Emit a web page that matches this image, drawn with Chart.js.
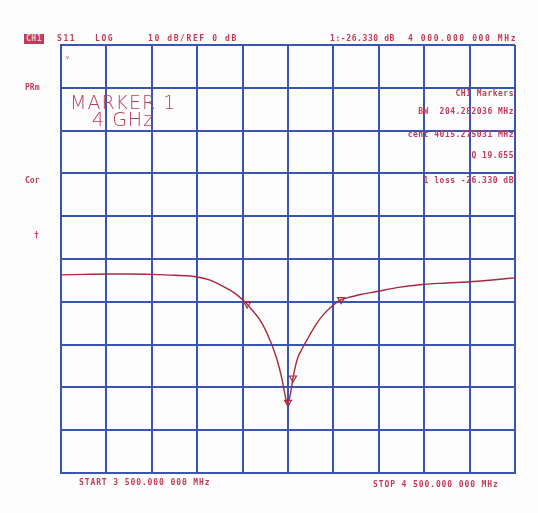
<!DOCTYPE html>
<html>
<head>
<meta charset="utf-8">
<script src="https://cdn.jsdelivr.net/npm/chart.js@4"></script>
<style>
  body { margin: 0; background: #fff; }
  #wrap { position: relative; width: 538px; height: 513px; background: #fdfdfd; }
  .t { position: absolute; color: #c23a58; font-family: "DejaVu Sans Mono", monospace; font-weight: bold; font-size: 8px; white-space: nowrap; line-height: 1; }
  .hd { letter-spacing: 1.6px; }
  .hs { letter-spacing: 0.6px; }
  .ft { letter-spacing: 0.9px; }
  .mk { letter-spacing: 0.5px; }
  .big { font-family: "DejaVu Sans", sans-serif; font-weight: 300; font-size: 19px; letter-spacing: 1px; color: #b8405c; line-height: 17px; }
  .box { background: #c23a58; color: #f4c8d2; padding: 1px 2px; letter-spacing: 0.5px; }
</style>
</head>
<body>
<div id="wrap">
  <canvas id="smithCanvas"></canvas>

  <div class="t box" style="left:24px;top:34px;">CH1</div>
  <div class="t hd" style="left:57px;top:35px;">S11</div>
  <div class="t hd" style="left:95px;top:35px;">LOG</div>
  <div class="t hd" style="left:148px;top:35px;">10 dB/REF 0 dB</div>
  <div class="t hs" style="left:330px;top:35px;">1:-26.330 dB</div>
  <div class="t hd" style="left:408px;top:35px;">4 000.000 000 MHz</div>

  <div class="t" style="left:65px;top:54px;">&#9663;</div>
  <div class="t" style="left:25px;top:84px;">PRm</div>
  <div class="t" style="left:25px;top:177px;">Cor</div>
  <div class="t" style="left:34px;top:232px;">&dagger;</div>

  <div class="t big" style="left:70px;top:94px;">MARKER 1</div>
  <div class="t big" style="left:92px;top:111px;">4 GHz</div>

  <div class="t mk" style="right:24px;top:90px;">CH1 Markers</div>
  <div class="t mk" style="right:24px;top:108px;">BW &nbsp;204.282036 MHz</div>
  <div class="t mk" style="right:24px;top:131px;">cent 4015.275031 MHz</div>
  <div class="t mk" style="right:24px;top:152px;">Q 19.655</div>
  <div class="t mk" style="right:24px;top:177px;">1 loss -26.330 dB</div>

  <div class="t ft" style="left:79px;top:479px;">START 3 500.000 000 MHz</div>
  <div class="t ft" style="left:373px;top:481px;">STOP 4 500.000 000 MHz</div>
</div>
<script>
// S11 sweep (MHz, dB)
const freqMHz = [3500, 3550, 3600, 3650, 3700, 3750, 3800, 3830, 3855, 3880, 3905, 3920, 3938, 3950, 3960, 3976, 3987, 3993, 3998, 4002, 4007, 4011, 4016, 4022, 4032, 4042, 4053, 4064, 4078, 4093, 4117, 4130, 4160, 4196, 4240, 4291, 4350, 4401, 4450, 4500];
const s11dB = [6.3, 6.4, 6.5, 6.5, 6.4, 6.2, 5.8, 5.0, 3.7, 2.2, 0.0, -1.8, -4.2, -6.5, -8.9, -13.6, -18.2, -21.5, -23.5, -23.0, -20.5, -17.8, -15.2, -12.9, -10.8, -8.9, -6.8, -4.9, -3.0, -1.4, 0.5, 0.9, 1.7, 2.4, 3.3, 4.0, 4.4, 4.7, 5.1, 5.6];

// markers
const markerFreq = [4000, 3910, 4117, 4011];
const markerDb = [-23.5, -0.5, 0.5, -17.8];

const gridBlue = '#3a55b0';
const traceRed = '#a8283e';

const smithCanvas = document.getElementById('smithCanvas');

let traceData = {
  datasets: [{
    data: freqMHz.map((f, i) => ({ x: f, y: s11dB[i] })),
    borderColor: traceRed,
    borderWidth: 1.4,
    pointRadius: 0,
    cubicInterpolationMode: 'monotone'
  }, {
    type: 'scatter',
    data: markerFreq.map((f, i) => ({ x: f, y: markerDb[i] })),
    pointStyle: 'triangle',
    rotation: 180,
    pointRadius: 4,
    borderColor: traceRed,
    borderWidth: 1.2,
    backgroundColor: 'rgba(255,255,255,0)'
  }]
};

let traceOptions = {
  responsive: true,
  maintainAspectRatio: false,
  animation: { duration: 0 },
  layout: { padding: { left: 61, right: 23, top: 45, bottom: 40 } },
  scales: {
    x: {
      type: 'linear',
      min: 3500,
      max: 4500,
      ticks: { display: false, stepSize: 100 },
      grid: { color: gridBlue, lineWidth: 2, drawTicks: false },
      border: { color: gridBlue, width: 2 }
    },
    y: {
      min: -40,
      max: 60,
      ticks: { display: false, stepSize: 10 },
      grid: { color: gridBlue, lineWidth: 2, drawTicks: false },
      border: { color: gridBlue, width: 2 }
    }
  },
  plugins: {
    legend: { display: false },
    tooltip: { enabled: false }
  }
};

let traceChart = new Chart(smithCanvas, {
  type: 'line',
  data: traceData,
  options: traceOptions
});
</script>
</body>
</html>
